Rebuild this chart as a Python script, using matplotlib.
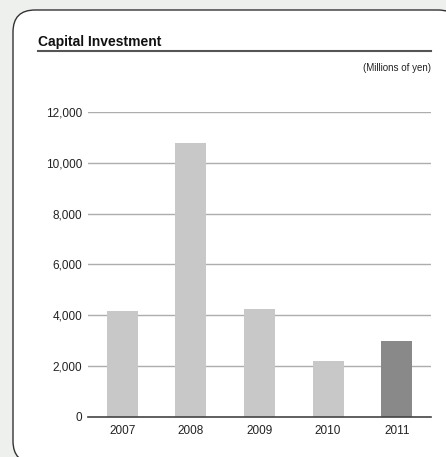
import matplotlib
matplotlib.use("Agg")
import matplotlib.pyplot as plt
from matplotlib.patches import FancyBboxPatch
from matplotlib import font_manager

years = ["2007", "2008", "2009", "2010", "2011"]
values = [4170, 10790, 4240, 2190, 2970]
bar_colors = ["#c8c8c8", "#c8c8c8", "#c8c8c8", "#c8c8c8", "#898989"]
yticks = [0, 2000, 4000, 6000, 8000, 10000, 12000]

names = {f.name for f in font_manager.fontManager.ttflist}
font = "Liberation Sans Narrow" if "Liberation Sans Narrow" in names else "Liberation Sans"
plt.rcParams["font.family"] = [font, "DejaVu Sans"]

W, H = 446, 457
fig = plt.figure(figsize=(W / 100, H / 100), dpi=100)
fig.patch.set_facecolor("#eef0ee")

# background axes in pixel units for the rounded white panel
bg = fig.add_axes([0, 0, 1, 1], zorder=-10)
bg.set_xlim(0, W)
bg.set_ylim(H, 0)
bg.axis("off")
bg.add_patch(FancyBboxPatch((13, 10), 447, 453,
                            boxstyle="round,pad=0,rounding_size=22",
                            facecolor="white", edgecolor="#333333", linewidth=1.0))

ax = fig.add_axes([88 / W, (H - 416.5) / H, (431 - 88) / W, (416.5 - 112.3) / H])
ax.set_facecolor("none")
x = range(len(years))
ax.bar(x, values, width=0.45, color=bar_colors, zorder=3)
ax.set_xlim(-0.5, 4.5)
ax.set_ylim(0, 12000)
ax.set_yticks(yticks)
ax.set_yticklabels([f"{v:,}" for v in yticks], fontsize=8.5)
ax.set_xticks(list(x))
ax.set_xticklabels(years, fontsize=8.5)
ax.tick_params(axis="both", length=0, colors="#222222")
ax.tick_params(axis="y", pad=4)
ax.tick_params(axis="x", pad=6)
for v in yticks[1:]:
    ax.axhline(v, color="#adadad", linewidth=1.0, zorder=1)
for s in ["top", "right", "left"]:
    ax.spines[s].set_visible(False)
ax.spines["bottom"].set_color("#444444")
ax.spines["bottom"].set_linewidth(1.2)
ax.spines["bottom"].set_zorder(4)

fig.text(38 / W, (H - 42) / H, "Capital Investment", fontsize=10, fontweight="bold",
         color="#111111", va="center", ha="left")
fig.add_artist(plt.Line2D([38 / W, 431 / W], [(H - 51) / H, (H - 51) / H],
                          transform=fig.transFigure, color="#555555", linewidth=1.5))
fig.text(431 / W, (H - 68) / H, "(Millions of yen)", fontsize=7, color="#222222",
         va="center", ha="right")

fig.savefig("out.png", dpi=100, facecolor=fig.get_facecolor())
